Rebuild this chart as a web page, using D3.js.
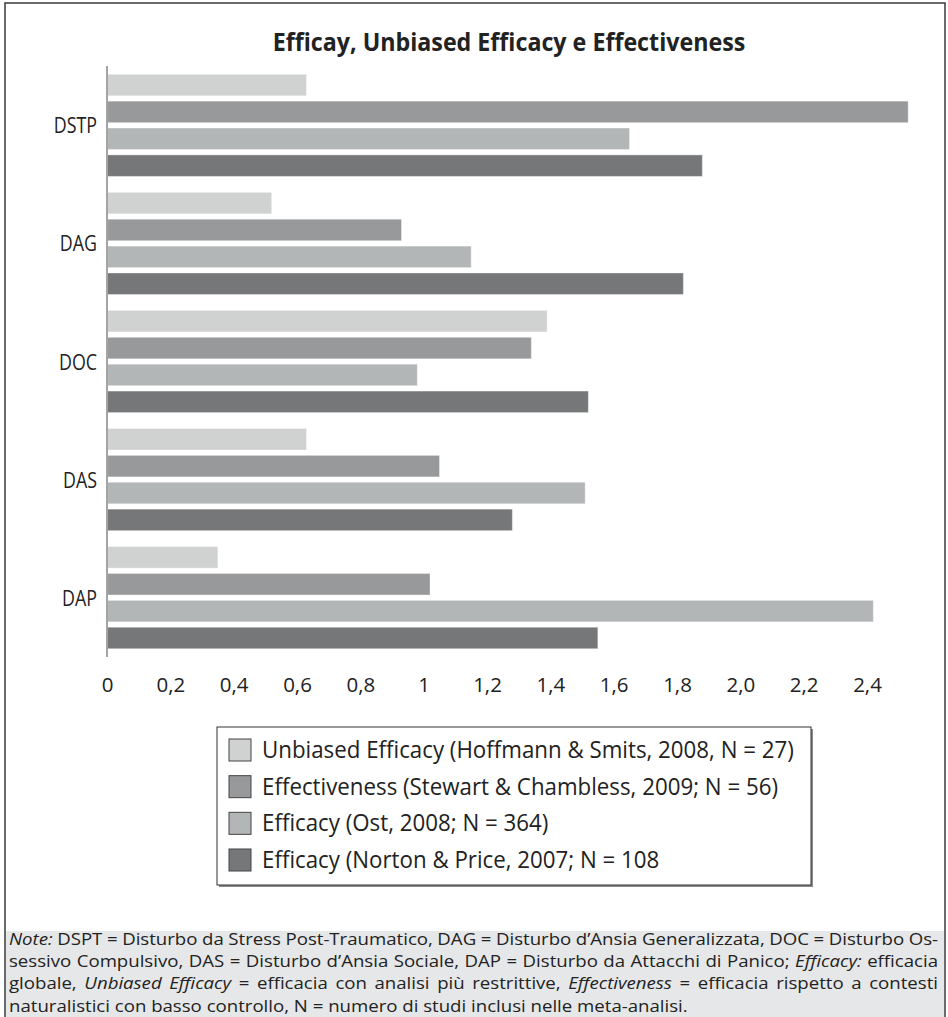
<!DOCTYPE html>
<html>
<head>
<meta charset="utf-8">
<script src="https://cdn.jsdelivr.net/npm/d3@7"></script>
<style>
  html, body { margin: 0; padding: 0; background: #fff; }
  svg { display: block; }
  text { font-family: "Open Sans", "Noto Sans", sans-serif; fill: #222; }
</style>
</head>
<body>
<svg id="chart" width="948" height="1017"></svg>
<script>
// Disorders (one group of bars each), top to bottom
const categories = ["DSTP", "DAG", "DOC", "DAS", "DAP"];

// Effect sizes per meta-analysis, in category order
const unbiasedHoffmann = [0.63, 0.52, 1.39, 0.63, 0.35];
const effectivenessStewart = [2.53, 0.93, 1.34, 1.05, 1.02];
const efficacyOst = [1.65, 1.15, 0.98, 1.51, 2.42];
const efficacyNorton = [1.88, 1.82, 1.52, 1.28, 1.55];

const seriesLabels = [
  "Unbiased Efficacy (Hoffmann & Smits, 2008, N = 27)",
  "Effectiveness (Stewart & Chambless, 2009; N = 56)",
  "Efficacy (Ost, 2008; N = 364)",
  "Efficacy (Norton & Price, 2007; N = 108"
];

const tickValues = [0, 0.2, 0.4, 0.6, 0.8, 1, 1.2, 1.4, 1.6, 1.8, 2.0, 2.2, 2.4];
const tickLabels = ["0", "0,2", "0,4", "0,6", "0,8", "1", "1,2", "1,4", "1,6", "1,8", "2,0", "2,2", "2,4"];

const titleText = "Efficay, Unbiased Efficacy e Effectiveness";

// Note lines; italic runs flagged with i:true
const noteLines = [
  [{t: "Note:", i: true}, {t: " DSPT = Disturbo da Stress Post-Traumatico, DAG = Disturbo d\u2019Ansia Generalizzata, DOC = Disturbo Os-"}],
  [{t: "sessivo Compulsivo, DAS = Disturbo d\u2019Ansia Sociale, DAP = Disturbo da Attacchi di Panico; "}, {t: "Efficacy:", i: true}, {t: " efficacia"}],
  [{t: "globale, "}, {t: "Unbiased Efficacy", i: true}, {t: " = efficacia con analisi pi\u00f9 restrittive, "}, {t: "Effectiveness", i: true}, {t: " = efficacia rispetto a contesti"}],
  [{t: "naturalistici con basso controllo, N = numero di studi inclusi nelle meta-analisi."}]
];

const series = [unbiasedHoffmann, effectivenessStewart, efficacyOst, efficacyNorton];
const colors = ["#d0d2d1", "#97999b", "#b3b6b7", "#767779"];

const svg = d3.select("#chart");

// outer frame
svg.append("rect")
  .attr("x", 5).attr("y", 3).attr("width", 940).attr("height", 1030)
  .attr("fill", "#fff").attr("stroke", "#3a3a3a").attr("stroke-width", 1.5);

// title
svg.append("text")
  .attr("transform", "translate(509,51) scale(0.93,1)")
  .attr("text-anchor", "middle")
  .attr("font-size", 25).attr("font-weight", "bold")
  .text(titleText);

// scales
const x = d3.scaleLinear().domain([0, 2.4]).range([107, 867]);
const y0 = d3.scaleBand().domain(categories).range([66, 657])
  .paddingInner(0.135).paddingOuter(0.07);
const y1 = d3.scaleBand().domain(d3.range(series.length)).range([0, y0.bandwidth()])
  .paddingInner(0.2);

// bars
const groups = svg.append("g").selectAll("g")
  .data(categories)
  .join("g")
  .attr("transform", d => `translate(0,${y0(d)})`);

groups.selectAll("rect")
  .data((d, ci) => series.map((s, si) => ({si, v: s[ci]})))
  .join("rect")
  .attr("x", x(0))
  .attr("y", d => y1(d.si))
  .attr("width", d => x(d.v) - x(0))
  .attr("height", y1.bandwidth())
  .attr("fill", d => colors[d.si])
  .attr("stroke", "rgba(255,255,255,0.35)")
  .attr("stroke-width", 1);

// category axis line
svg.append("line")
  .attr("x1", x(0)).attr("x2", x(0))
  .attr("y1", 66).attr("y2", 657)
  .attr("stroke", "#a4a4a4").attr("stroke-width", 2);

// category labels
svg.append("g").selectAll("text")
  .data(categories)
  .join("text")
  .attr("transform", d => `translate(97,${y0(d) + y0.bandwidth() / 2 + 8}) scale(0.85,1)`)
  .attr("text-anchor", "end")
  .attr("font-size", 21)
  .text(d => d);

// value axis (labels only)
const xAxis = d3.axisBottom(x)
  .tickValues(tickValues)
  .tickSize(0)
  .tickPadding(0)
  .tickFormat((d, i) => tickLabels[i]);

const axisG = svg.append("g")
  .attr("transform", "translate(0,677)")
  .call(xAxis);
axisG.select(".domain").remove();
axisG.selectAll("text")
  .attr("font-size", 20.5)
  .attr("fill", "#222")
  .attr("font-family", "\"Open Sans\", \"Noto Sans\", sans-serif")
  .attr("dy", "0.71em");

// legend
const lg = svg.append("g");
lg.append("rect")
  .attr("x", 219).attr("y", 729).attr("width", 594).attr("height", 158)
  .attr("fill", "#8a8a8a");
lg.append("rect")
  .attr("x", 217).attr("y", 727).attr("width", 594).attr("height", 158)
  .attr("fill", "#fff").attr("stroke", "#333").attr("stroke-width", 1);

const rowY = d3.scalePoint().domain(d3.range(seriesLabels.length)).range([750, 860]);
const items = lg.selectAll("g.item")
  .data(seriesLabels)
  .join("g")
  .attr("class", "item")
  .attr("transform", (d, i) => `translate(0,${rowY(i)})`);
items.append("rect")
  .attr("x", 229).attr("y", -11).attr("width", 22).attr("height", 22)
  .attr("fill", (d, i) => colors[i])
  .attr("stroke", "#444").attr("stroke-width", 1);
items.append("text")
  .attr("transform", "translate(262,8) scale(0.97,1)")
  .attr("font-size", 23)
  .text(d => d);

// note panel
svg.append("rect")
  .attr("x", 6).attr("y", 931).attr("width", 938).attr("height", 100)
  .attr("fill", "#e6e7e8");

const noteLeft = 9, noteRight = 938, noteStretch = 1.15, noteSize = 16.2, noteLead = 22.2, noteTop = 945;
const noteG = svg.append("g")
  .attr("transform", `translate(${noteLeft},0) scale(${noteStretch},1)`);
noteLines.forEach((runs, li) => {
  const t = noteG.append("text")
    .attr("x", 0)
    .attr("y", noteTop + li * noteLead)
    .attr("font-size", noteSize);
  runs.forEach(r => {
    t.append("tspan").attr("font-style", r.i ? "italic" : null).text(r.t);
  });
  // justify all lines but the last by widening the word gaps
  if (li < noteLines.length - 1) {
    const natural = t.node().getComputedTextLength();
    const gaps = runs.map(r => r.t).join("").split(" ").length - 1;
    const target = (noteRight - noteLeft) / noteStretch;
    t.attr("word-spacing", (target - natural) / gaps);
  }
});
</script>
</body>
</html>
